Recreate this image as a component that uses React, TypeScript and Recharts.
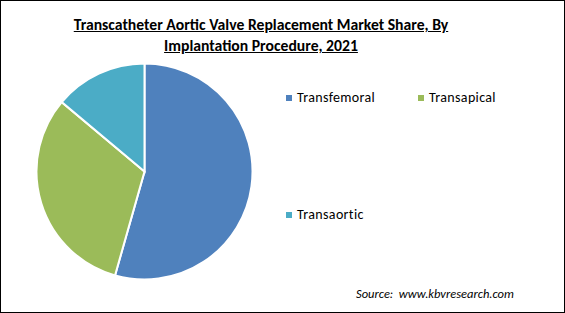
import React from 'react';
import { PieChart, Pie, Cell } from 'recharts';

// Market share by implantation procedure, 2021 (%)
const procedures = ['Transfemoral', 'Transapical', 'Transaortic'];
const shares = [54.4, 31.7, 13.9];
const COLORS = ['#4f81bd', '#9bbb59', '#4bacc6'];

const pieData = procedures.map((name, i) => ({ name, value: shares[i] }));

const FONT = 'Carlito, Calibri, "Open Sans", sans-serif';

export default function App() {
  return (
    <div
      style={{
        position: 'fixed',
        left: 0,
        top: 0,
        width: 565,
        height: 313,
        boxSizing: 'border-box',
        border: '1px solid #000',
        background: '#fff',
        overflow: 'hidden',
      }}
    >
      <div
        style={{
          position: 'absolute',
          left: 0,
          top: 13,
          width: 520,
          textAlign: 'center',
          fontFamily: FONT,
          fontWeight: 700,
          fontSize: 15.7,
          lineHeight: '21px',
          textDecoration: 'underline',
          color: '#000',
        }}
      >
        Transcatheter Aortic Valve Replacement Market Share, By
        <br />
        Implantation Procedure, 2021
      </div>
      <div style={{ position: 'absolute', left: 0, top: 0 }}>
        <PieChart width={563} height={311} margin={{ top: 0, right: 0, bottom: 0, left: 0 }}>
          <Pie
            data={pieData}
            dataKey="value"
            nameKey="name"
            cx={143.5}
            cy={170.5}
            outerRadius={108}
            startAngle={90}
            endAngle={-270}
            stroke="#fff"
            strokeWidth={2}
            isAnimationActive={false}
          >
            {pieData.map((_, i) => (
              <Cell key={`cell-${i}`} fill={COLORS[i]} />
            ))}
          </Pie>
        </PieChart>
      </div>
      {/* legend: two columns, second row far below like the source */}
      {procedures.map((name, i) => (
        <div
          key={name}
          style={{
            position: 'absolute',
            left: 285 + (i % 2) * 132,
            top: 88 + Math.floor(i / 2) * 117,
            display: 'flex',
            alignItems: 'center',
            fontFamily: FONT,
            fontSize: 14,
            letterSpacing: 0.35,
            color: '#000',
          }}
        >
          <span style={{ display: 'inline-block', width: 6, height: 6, background: COLORS[i], marginRight: 5 }} />
          {name}
        </div>
      ))}
      <div
        style={{
          position: 'absolute',
          left: 355,
          top: 285,
          fontFamily: FONT,
          fontStyle: 'italic',
          fontSize: 12.5,
          color: '#000',
        }}
      >
        Source:&nbsp; www.kbvresearch.com
      </div>
    </div>
  );
}
